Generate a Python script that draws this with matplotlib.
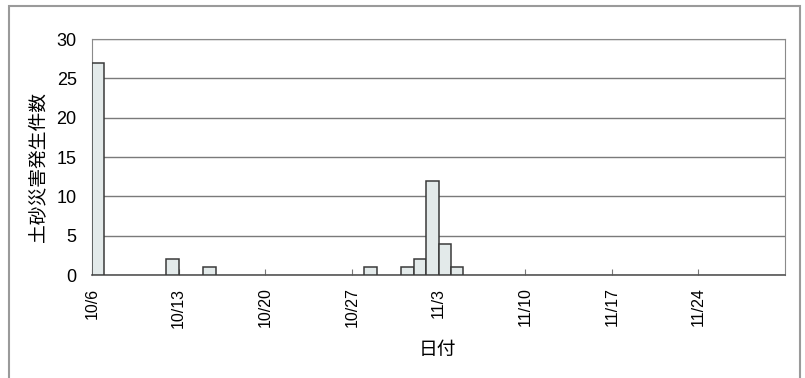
import datetime as dt
import matplotlib
matplotlib.use("Agg")
import matplotlib.pyplot as plt
from matplotlib.patches import Rectangle

plt.rcParams['font.family'] = ['Liberation Sans', 'Noto Sans CJK JP', 'DejaVu Sans']

# 日別の土砂災害発生件数
dates = ["10/6", "10/12", "10/15", "10/28", "10/31", "11/1", "11/2", "11/3", "11/4"]
counts = [27, 2, 1, 1, 1, 2, 12, 4, 1]
tick_labels = ["10/6", "10/13", "10/20", "10/27", "11/3", "11/10", "11/17", "11/24"]
n_days = 56

def to_day(s, start=dt.date(2001, 10, 6)):
    m, d = map(int, s.split("/"))
    return (dt.date(2001, m, d) - start).days

x = [to_day(s) for s in dates]
ticks = [to_day(s) for s in tick_labels]

fig = plt.figure(figsize=(8.05, 3.78), dpi=100)
fig.patches.append(Rectangle((9 / 805, -0.05), 791 / 805, 1 - 6 / 378 + 0.05,
                             transform=fig.transFigure, fill=False,
                             edgecolor='#9a9a9a', linewidth=1.5))

ax = fig.add_axes([92 / 805, 103 / 378, 693 / 805, 236 / 378])
ax.bar(x, counts, width=1, align='edge', color='#e3eaea',
       edgecolor='#3a3a3a', linewidth=1.1, zorder=3)

ax.set_xlim(0, n_days)
ax.set_ylim(0, 30)
ax.set_yticks(range(0, 31, 5))
ax.yaxis.grid(True, color='#7a7a7a', linewidth=1.0)
ax.set_axisbelow(True)

ax.set_xticks(ticks)
ax.set_xticklabels(tick_labels, rotation=90, fontsize=11.5)
ax.tick_params(axis='x', direction='in', length=4, color='#777777', pad=9)
ax.tick_params(axis='y', length=0, pad=11, labelsize=13)

for side in ['top', 'right', 'left']:
    ax.spines[side].set_color('#8a8a8a')
ax.spines['bottom'].set_color('#555555')
ax.spines['bottom'].set_linewidth(1.2)

fig.text(38 / 805, 1 - 167 / 378, '土砂災害発生件数', fontsize=13.5,
         rotation=90, ha='center', va='center')
fig.text(437 / 805, 1 - 350 / 378, '日付', fontsize=13.5, ha='center', va='center')

fig.savefig('out.png', dpi=100)
